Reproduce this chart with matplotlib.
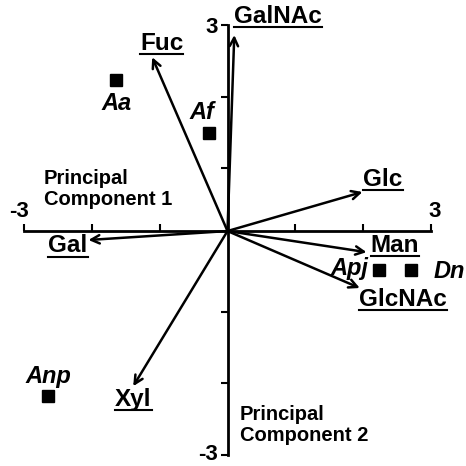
import matplotlib
matplotlib.use('Agg')
import matplotlib.pyplot as plt
from matplotlib.lines import Line2D
from matplotlib.transforms import IdentityTransform

plt.rcParams['font.family'] = ['Liberation Sans', 'DejaVu Sans']

# loadings (arrow tips)
variables = ['GalNAc', 'Fuc', 'Glc', 'Man', 'GlcNAc', 'Gal', 'Xyl']
load_x = [0.10, -1.11, 1.99, 2.05, 1.95, -2.05, -1.39]
load_y = [2.86, 2.55, 0.67, -0.17, -0.67, 0.00, -2.04]

# scores (species)
species = ['Aa', 'Af', 'Apj', 'Dn', 'Anp']
score_x = [-1.64, -0.28, 2.23, 2.71, -2.65]
score_y = [2.23, 1.49, -0.42, -0.42, -2.18]

ticks = [-3, -2, -1, 0, 1, 2, 3]
y_cross = 0.125  # height where the horizontal axis crosses

fig = plt.figure(figsize=(4.66, 4.66), dpi=100)
ax = fig.add_axes([24 / 466, 11 / 466, 407 / 466, 430 / 466])
ax.set_xlim(-3, 3)
ax.set_ylim(-3, 3)

for s in ['top', 'right']:
    ax.spines[s].set_visible(False)
ax.spines['left'].set_position(('data', 0))
ax.spines['bottom'].set_position(('data', y_cross))
ax.spines['left'].set_linewidth(2)
ax.spines['bottom'].set_linewidth(2)
ax.set_xticks(ticks)
ax.set_yticks([t for t in ticks if t != 0])
ax.set_xticklabels([])
ax.set_yticklabels([])
ax.tick_params(axis='x', direction='in', length=5, width=1.5)
ax.tick_params(axis='y', direction='out', length=5, width=1.5)

bold = dict(fontweight='bold', color='black')

# end tick labels
ax.text(-3.08, y_cross + 0.12, '-3', ha='center', va='bottom', fontsize=16, **bold)
ax.text(3.06, y_cross + 0.12, '3', ha='center', va='bottom', fontsize=16, **bold)
ax.text(-0.14, 2.97, '3', ha='right', va='center', fontsize=16, **bold)
ax.text(-0.14, -3.0, '-3', ha='right', va='center', fontsize=16, **bold)

ax.text(-2.71, 0.71, 'Principal\nComponent 1', ha='left', va='center',
        fontsize=14.5, linespacing=1.1, **bold)
ax.text(0.18, -2.58, 'Principal\nComponent 2', ha='left', va='center',
        fontsize=14.5, linespacing=1.1, **bold)

# label offsets from arrow tip, in pixels
var_off = {'GalNAc': (0, 19), 'Fuc': (-12, 14), 'Glc': (1, 12), 'Man': (4, 7),
           'GlcNAc': (-1, -11), 'Gal': (-40, -6), 'Xyl': (-18, -13)}

under = []
for name, x, y in zip(variables, load_x, load_y):
    ax.annotate('', xy=(x, y), xytext=(0, y_cross),
                arrowprops=dict(arrowstyle='->', lw=1.8, color='black',
                                shrinkA=0, shrinkB=0, mutation_scale=15))
    dx, dy = var_off[name]
    t = ax.annotate(name, (x, y), xytext=(dx * 0.72, dy * 0.72),
                    textcoords='offset points', ha='left', va='center',
                    fontsize=17.5, **bold)
    under.append(t)

ax.plot(score_x, score_y, 's', color='black', markersize=8.5)

sp_off = {'Aa': (0, -23, 'center'), 'Af': (-7, 21, 'center'),
          'Apj': (-10, 2, 'right'), 'Dn': (22, -1, 'left'),
          'Anp': (1, 20, 'center')}
for name, x, y in zip(species, score_x, score_y):
    dx, dy, ha = sp_off[name]
    ax.annotate(name, (x, y), xytext=(dx * 0.72, dy * 0.72),
                textcoords='offset points', ha=ha, va='center',
                fontsize=17, fontstyle='italic', **bold)

fig.canvas.draw()
for t in under:
    bb = t.get_window_extent()
    fig.add_artist(Line2D([bb.x0, bb.x1], [bb.y0 + 1, bb.y0 + 1],
                          color='black', lw=1.5, transform=IdentityTransform()))

fig.savefig('out.png', dpi=100)
